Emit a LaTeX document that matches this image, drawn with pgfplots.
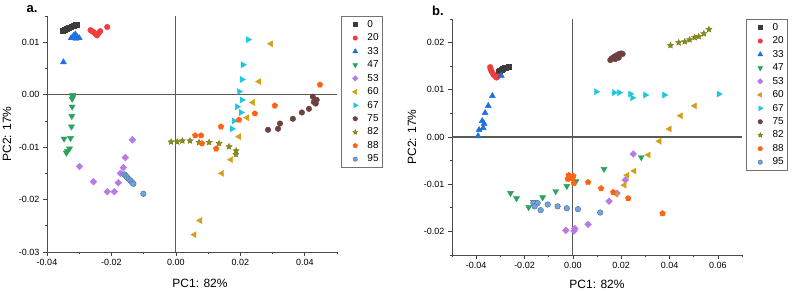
\documentclass[border=0pt]{standalone}
\usepackage{fontspec}
\setmainfont{Liberation Sans}
\usepackage{pgfplots}
\pgfplotsset{compat=1.18}
\usetikzlibrary{plotmarks}

\definecolor{cA}{HTML}{3C3C3C}
\definecolor{cB}{HTML}{F03C3C}
\definecolor{cC}{HTML}{1F6FE0}
\definecolor{cD}{HTML}{2CA25F}
\definecolor{cE}{HTML}{B87AE8}
\definecolor{cF}{HTML}{D4A017}
\definecolor{cG}{HTML}{1EC8DC}
\definecolor{cH}{HTML}{6E4141}
\definecolor{cI}{HTML}{8C8C14}
\definecolor{cJ}{HTML}{FF6414}
\definecolor{cK}{HTML}{5F93D6}

\pgfdeclareplotmark{fstar}{%
  \pgfpathmoveto{\pgfpointpolar{90}{\pgfplotmarksize}}%
  \pgfpathlineto{\pgfpointpolar{126}{0.45\pgfplotmarksize}}%
  \pgfpathlineto{\pgfpointpolar{162}{\pgfplotmarksize}}%
  \pgfpathlineto{\pgfpointpolar{198}{0.45\pgfplotmarksize}}%
  \pgfpathlineto{\pgfpointpolar{234}{\pgfplotmarksize}}%
  \pgfpathlineto{\pgfpointpolar{270}{0.45\pgfplotmarksize}}%
  \pgfpathlineto{\pgfpointpolar{306}{\pgfplotmarksize}}%
  \pgfpathlineto{\pgfpointpolar{342}{0.45\pgfplotmarksize}}%
  \pgfpathlineto{\pgfpointpolar{18}{\pgfplotmarksize}}%
  \pgfpathlineto{\pgfpointpolar{54}{0.45\pgfplotmarksize}}%
  \pgfpathclose
  \pgfusepathqfillstroke}

\pgfplotsset{
  sA/.style={only marks, mark=square*, mark size=2.4pt, mark options={draw=cA, fill=cA}},
  sB/.style={only marks, mark=*, mark size=2.8pt, mark options={draw=cB, fill=cB}},
  sC/.style={only marks, mark=triangle*, mark size=3.5pt, mark options={draw=cC, fill=cC}},
  sD/.style={only marks, mark=triangle*, mark size=3.5pt, mark options={rotate=180, draw=cD, fill=cD}},
  sE/.style={only marks, mark=square*, mark size=2.4pt, mark options={rotate=45, draw=cE, fill=cE}},
  sF/.style={only marks, mark=triangle*, mark size=3.5pt, mark options={rotate=90, draw=cF, fill=cF}},
  sG/.style={only marks, mark=triangle*, mark size=3.5pt, mark options={rotate=-90, draw=cG, fill=cG}},
  sH/.style={only marks, mark=*, mark size=2.8pt, mark options={draw=cH, fill=cH}},
  sI/.style={only marks, mark=fstar, mark size=3.3pt, mark options={draw=cI!80!black, fill=cI, line width=0.3pt}},
  sJ/.style={only marks, mark=pentagon*, mark size=3pt, mark options={draw=cJ, fill=cJ}},
  sK/.style={only marks, mark=*, mark size=2.8pt, mark options={rotate=0, draw=cK!80!black, fill=cK!85!white, line width=0.5pt}},
  myax/.style={
    scale only axis, width=290pt, height=236pt,
    axis x line*=bottom, axis y line*=left,
    axis line style={black!70, line width=0.8pt},
    tick align=outside, major tick length=4pt, minor tick length=2.5pt,
    every tick/.style={black!75, line width=0.6pt},
    scaled ticks=false,
    tick label style={font=\fontsize{9}{10}\selectfont},
    /pgf/number format/fixed, /pgf/number format/fixed zerofill,
    /pgf/number format/precision=2, /pgf/number format/assume math mode=true,
    xlabel={PC1: 82\%}, ylabel={PC2: 17\%},
    every axis y label/.style={at={(axis description cs:0,0.5)}, anchor=center, rotate=90, yshift=40pt, inner sep=0pt, font=\fontsize{12}{14}\selectfont},
    every axis x label/.style={at={(axis description cs:0.5,0)}, anchor=center, yshift=-30pt, inner sep=0pt, font=\fontsize{12}{14}\selectfont},
    legend cell align=left,
    legend style={at={(1,1)}, anchor=north west, xshift=4pt, draw=black!55, line width=0.6pt,
      font=\fontsize{10}{12}\selectfont, inner sep=2pt, row sep=1pt},
    legend image code/.code={%
      \path[draw=none, fill=none] (0cm,-0.1cm) rectangle (0.78cm,0.1cm);
      \draw[#1, only marks, every mark/.append style={scale=0.78}] plot coordinates {(0.42cm,0cm)};},
  }
}

\begin{document}
\begin{tikzpicture}
\useasboundingbox (0,0) rectangle (800pt,291pt);
\node[font=\bfseries\fontsize{13}{14}\selectfont] at (32pt,282pt) {a.};
\node[font=\bfseries\fontsize{13}{14}\selectfont] at (438pt,280pt) {b.};

% ---------------- Panel a ----------------
\begin{axis}[myax, at={(47pt,39pt)}, anchor=south west,
  xmin=-0.04, xmax=0.05, ymin=-0.03, ymax=0.015,
  xtick={-0.04,-0.02,0,0.02,0.04}, minor xtick={-0.03,-0.01,0.01,0.03,0.05},
  ytick={-0.03,-0.02,-0.01,0,0.01}, minor ytick={-0.025,-0.015,-0.005,0.005,0.015},
  xlabel style={xshift=8pt, yshift=-1pt}]
\addplot[forget plot, black!65, line width=1.2pt] coordinates {(-0.04,0) (0.05,0)};
\addplot[forget plot, black!65, line width=1.2pt] coordinates {(0,-0.03) (0,0.015)};
\addplot[sA] coordinates {(-0.0352,0.0122) (-0.0345,0.0124) (-0.0338,0.0126) (-0.0332,0.0128) (-0.0325,0.0130) (-0.0318,0.0132) (-0.0312,0.0133) (-0.0306,0.0134)};
\addlegendentry{0}
\addplot[sB] coordinates {(-0.0265,0.0123) (-0.0260,0.0121) (-0.0255,0.0119) (-0.0250,0.0116) (-0.0245,0.0113) (-0.0240,0.0117) (-0.0235,0.0121) (-0.0213,0.0129)};
\addlegendentry{20}
\addplot[sC] coordinates {(-0.0349,0.0062) (-0.0325,0.0108) (-0.0318,0.0112) (-0.0312,0.0115) (-0.0306,0.0110) (-0.0300,0.0108) (-0.0310,0.0107)};
\addlegendentry{33}
\addplot[sD] coordinates {(-0.0320,-0.0001) (-0.0320,-0.0005) (-0.0322,-0.0008) (-0.0322,-0.0023) (-0.0323,-0.0041) (-0.0324,-0.0061) (-0.0347,-0.0084) (-0.0327,-0.0083) (-0.0330,-0.0103) (-0.0337,-0.0108) (-0.0340,-0.0111)};
\addlegendentry{47}
\addplot[sE] coordinates {(-0.0299,-0.0137) (-0.0256,-0.0166) (-0.0213,-0.0185) (-0.0191,-0.0185) (-0.0179,-0.0168) (-0.0172,-0.0150) (-0.0163,-0.0139) (-0.0157,-0.0120) (-0.0135,-0.0086)};
\addlegendentry{53}
\addplot[sF] coordinates {(0.0295,0.0097) (0.0258,0.0025) (0.0239,-0.0015) (0.0221,-0.0044) (0.0196,-0.0080) (0.0171,-0.0124) (0.0143,-0.0150) (0.0075,-0.0240) (0.0057,-0.0267)};
\addlegendentry{60}
\addplot[sG] coordinates {(0.0224,0.0105) (0.0208,0.0057) (0.0205,0.0029) (0.0196,0.0006) (0.0205,-0.0010) (0.0190,-0.0023) (0.0202,-0.0034) (0.0180,-0.0050) (0.0174,-0.0065)};
\addlegendentry{67}
\addplot[sH] coordinates {(0.0425,-0.0004) (0.0437,-0.0010) (0.0434,-0.0017) (0.0428,-0.0014) (0.0413,-0.0027) (0.0391,-0.0034) (0.0363,-0.0046) (0.0323,-0.0055) (0.0317,-0.0065) (0.0286,-0.0067)};
\addlegendentry{75}
\addplot[sI] coordinates {(-0.0015,-0.0090) (0.0004,-0.0090) (0.0020,-0.0088) (0.0044,-0.0088) (0.0072,-0.0091) (0.0103,-0.0091) (0.0134,-0.0093) (0.0165,-0.0099) (0.0187,-0.0107) (0.0186,-0.0114)};
\addlegendentry{82}
\addplot[sJ] coordinates {(0.0447,0.0019) (0.0307,-0.0021) (0.0245,-0.0036) (0.0196,-0.0048) (0.0140,-0.0061) (0.0078,-0.0078) (0.0060,-0.0078) (0.0081,-0.0093) (0.0125,-0.0103)};
\addlegendentry{88}
\addplot[sK] coordinates {(-0.0160,-0.0152) (-0.0155,-0.0155) (-0.0151,-0.0158) (-0.0146,-0.0161) (-0.0141,-0.0164) (-0.0136,-0.0167) (-0.0132,-0.0170) (-0.0101,-0.0189)};
\addlegendentry{95}
\node[anchor=south west, font=\fontsize{12}{14}\selectfont, inner sep=0pt] at (rel axis cs:1,1) [xshift=4pt, yshift=3pt] {C1 Scores};
\end{axis}

% ---------------- Panel b ----------------
\begin{axis}[myax, at={(452pt,36pt)}, anchor=south west,
  xmin=-0.05, xmax=0.07, ymin=-0.025, ymax=0.025,
  xtick={-0.04,-0.02,0,0.02,0.04,0.06}, minor xtick={-0.05,-0.03,-0.01,0.01,0.03,0.05,0.07},
  ytick={-0.02,-0.01,0,0.01,0.02}, minor ytick={-0.025,-0.015,-0.005,0.005,0.015,0.025},
  xlabel style={yshift=1pt}]
\addplot[forget plot, black!65, line width=1.2pt] coordinates {(-0.05,0) (0.07,0)};
\addplot[forget plot, black!65, line width=1.2pt] coordinates {(0,-0.025) (0,0.025)};
\addplot[sA] coordinates {(-0.0308,0.0138) (-0.0302,0.0140) (-0.0296,0.0142) (-0.0290,0.0144) (-0.0284,0.0146) (-0.0278,0.0147) (-0.0272,0.0148) (-0.0267,0.0149)};
\addlegendentry{0}
\addplot[sB] coordinates {(-0.0342,0.0148) (-0.0340,0.0144) (-0.0337,0.0140) (-0.0333,0.0136) (-0.0328,0.0132) (-0.0322,0.0129) (-0.0316,0.0126) (-0.0310,0.0128)};
\addlegendentry{20}
\addplot[sC] coordinates {(-0.0296,0.0130) (-0.0333,0.0087) (-0.0350,0.0066) (-0.0363,0.0051) (-0.0375,0.0034) (-0.0367,0.0028) (-0.0371,0.0019) (-0.0388,0.0015) (-0.0392,0.0002)};
\addlegendentry{33}
\addplot[sD] coordinates {(-0.0258,-0.0119) (-0.0233,-0.0130) (-0.0183,-0.0149) (-0.0163,-0.0138) (-0.0125,-0.0128) (-0.0071,-0.0115) (-0.0025,-0.0104) (0.0013,-0.0094) (0.0129,-0.0068) (0.0283,-0.0043)};
\addlegendentry{47}
\addplot[sE] coordinates {(-0.0029,-0.0198) (0.0008,-0.0194) (0.0005,-0.0199) (0.0063,-0.0185) (0.0150,-0.0136) (0.0183,-0.0119) (0.0217,-0.0091) (0.0250,-0.0036)};
\addlegendentry{53}
\addplot[sF] coordinates {(0.0504,0.0066) (0.0446,0.0045) (0.0400,0.0017) (0.0358,-0.0009) (0.0313,-0.0038) (0.0254,-0.0072) (0.0225,-0.0081) (0.0213,-0.0102) (0.0179,-0.0121)};
\addlegendentry{60}
\addplot[sG] coordinates {(0.0096,0.0096) (0.0171,0.0094) (0.0192,0.0094) (0.0238,0.0091) (0.0246,0.0083) (0.0300,0.0089) (0.0379,0.0089) (0.0604,0.0091)};
\addlegendentry{67}
\addplot[sH] coordinates {(0.0155,0.0163) (0.0160,0.0166) (0.0166,0.0168) (0.0172,0.0170) (0.0178,0.0172) (0.0185,0.0174) (0.0192,0.0176) (0.0200,0.0177) (0.0206,0.0176) (0.0175,0.0165) (0.0190,0.0168)};
\addlegendentry{75}
\addplot[sI] coordinates {(0.0404,0.0194) (0.0438,0.0200) (0.0463,0.0202) (0.0483,0.0206) (0.0504,0.0211) (0.0521,0.0213) (0.0542,0.0219) (0.0563,0.0228)};
\addlegendentry{82}
\addplot[sJ] coordinates {(-0.0017,-0.0081) (0.0002,-0.0083) (-0.0021,-0.0089) (-0.0004,-0.0088) (0.0004,-0.0098) (0.0063,-0.0096) (0.0117,-0.0109) (0.0167,-0.0117) (0.0229,-0.0130) (0.0371,-0.0162)};
\addlegendentry{88}
\addplot[sK] coordinates {(-0.0163,-0.0140) (-0.0146,-0.0140) (-0.0158,-0.0147) (-0.0133,-0.0155) (-0.0104,-0.0143) (-0.0063,-0.0147) (-0.0025,-0.0151) (0.0021,-0.0153) (0.0113,-0.0160)};
\addlegendentry{95}
\node[anchor=south west, font=\fontsize{12}{14}\selectfont, inner sep=0pt] at (rel axis cs:1,1) [xshift=2pt, yshift=3pt] {C2 scores};
\end{axis}
\end{tikzpicture}
\end{document}
